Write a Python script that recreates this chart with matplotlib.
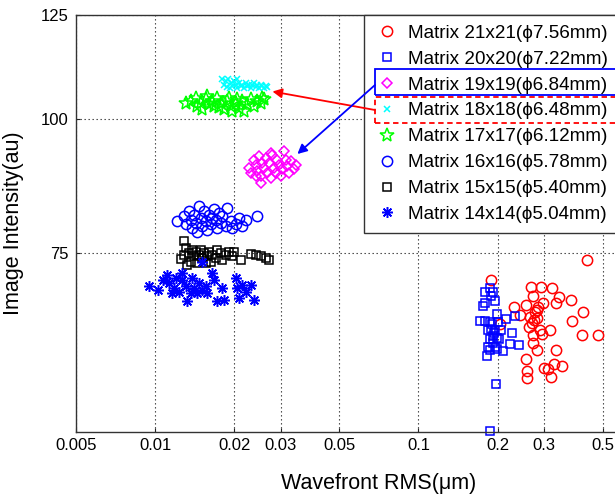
import matplotlib
matplotlib.use("Agg")
import matplotlib.pyplot as plt
from matplotlib.patches import Rectangle
from matplotlib.ticker import NullLocator

plt.rcParams['font.family'] = ['Liberation Sans', 'DejaVu Sans']

# ---------------- data ----------------
labels = ['Matrix 21x21(\u03d57.56mm)', 'Matrix 20x20(\u03d57.22mm)', 'Matrix 19x19(\u03d56.84mm)',
          'Matrix 18x18(\u03d56.48mm)', 'Matrix 17x17(\u03d56.12mm)', 'Matrix 16x16(\u03d55.78mm)',
          'Matrix 15x15(\u03d55.40mm)', 'Matrix 14x14(\u03d55.04mm)']

m21_x = [0.435, 0.188, 0.267, 0.292, 0.321, 0.272, 0.340, 0.378, 0.298, 0.332, 0.256, 0.231, 0.281, 0.420,
         0.277, 0.243, 0.264, 0.281, 0.381, 0.269, 0.204, 0.289, 0.316, 0.295, 0.271, 0.416, 0.480, 0.273,
         0.281, 0.332, 0.255, 0.327, 0.349, 0.300, 0.309, 0.259, 0.318, 0.258, 0.283, 0.275, 0.262]
m21_y = [73.9, 70.9, 69.8, 69.8, 69.6, 68.4, 68.3, 67.8, 67.4, 67.4, 67.2, 66.9, 66.5, 66.1,
         66.1, 65.7, 65.5, 65.3, 64.9, 64.6, 64.5, 63.7, 63.6, 63.1, 63.0, 63.0, 63.0, 61.9,
         61.0, 61.0, 59.8, 59.2, 58.9, 58.7, 58.6, 58.3, 57.6, 57.4, 66.8, 65.0, 64.0]

m20_x = [0.187, 0.1786, 0.1926, 0.188, 0.1954, 0.1786, 0.1764, 0.1994, 0.2333, 0.2144,
         0.1714, 0.179, 0.187, 0.2011, 0.188, 0.1954, 0.1843, 0.2053, 0.2266, 0.1926,
         0.1983, 0.1915, 0.2227, 0.2402, 0.1843, 0.1994, 0.209, 0.1818, 0.187, 0.197,
         0.186, 0.190, 0.1935, 0.2025, 0.187, 0.1954]
m20_y = [69.6, 69.1, 69.0, 68.4, 67.7, 67.4, 67.0, 65.9, 65.6, 65.1,
         64.9, 64.9, 64.8, 64.7, 63.8, 63.7, 63.7, 63.7, 63.2, 62.8,
         62.6, 61.9, 61.8, 61.6, 61.3, 61.1, 60.8, 60.2, 61.0, 56.7,
         51.3, 64.4, 63.2, 62.4, 62.4, 61.4]

m19_x = [0.02272, 0.02306, 0.02373, 0.02409, 0.02444, 0.0248, 0.02517, 0.02517, 0.02553, 0.02589,
         0.02628, 0.02666, 0.02707, 0.02745, 0.02786, 0.02826, 0.02867, 0.02909, 0.02952, 0.02994,
         0.0304, 0.03083, 0.0313, 0.03174, 0.03221, 0.03269, 0.03364, 0.03415, 0.02745, 0.02409]
m19_y = [90.1, 89.1, 91.7, 90.7, 89.5, 92.4, 88.5, 87.2, 91.1, 90.1,
         92.0, 89.1, 91.1, 88.2, 92.7, 90.1, 89.1, 91.7, 90.7, 88.5,
         89.8, 93.4, 91.7, 90.4, 89.1, 91.4, 89.8, 90.7, 93.0, 88.5]

m18_x = [0.01801, 0.01855, 0.01828, 0.01893, 0.01938, 0.01966, 0.01995, 0.02024, 0.02054, 0.02084,
         0.02113, 0.02144, 0.02176, 0.02208, 0.0224, 0.02273, 0.02306, 0.0234, 0.02375, 0.0241,
         0.02445, 0.02481, 0.02517, 0.02553, 0.02591, 0.02629, 0.02668, 0.01871, 0.01926, 0.02054]
m18_y = [109.1, 108.5, 107.7, 108.9, 108.1, 107.4, 108.5, 107.7, 107.0, 108.1,
         107.4, 107.7, 107.0, 108.0, 107.4, 107.7, 107.0, 107.5, 108.0, 107.2,
         107.6, 107.0, 107.7, 107.4, 107.0, 107.4, 107.2, 107.2, 106.8, 108.9]

m17_x = [0.01309, 0.01367, 0.01428, 0.01491, 0.01513, 0.01558, 0.01604, 0.01651, 0.01725, 0.0175,
         0.01776, 0.01828, 0.01882, 0.01909, 0.01938, 0.01966, 0.02024, 0.02054, 0.02084, 0.02144,
         0.02176, 0.0224, 0.02306, 0.02375, 0.02445, 0.02517, 0.02553, 0.02591, 0.01675, 0.01581, 0.01449]
m17_y = [103.6, 104.0, 104.7, 103.6, 102.2, 104.3, 103.2, 104.0, 104.7, 102.7,
         103.6, 102.1, 104.0, 104.7, 102.8, 101.7, 103.6, 104.4, 102.5, 104.0,
         101.7, 103.2, 104.3, 102.8, 104.0, 103.6, 104.7, 104.3, 102.8, 105.1, 102.8]

m16_x = [0.01217, 0.0129, 0.01309, 0.01347, 0.01367, 0.01387, 0.01408, 0.01428, 0.0147, 0.01491,
         0.01513, 0.01535, 0.01557, 0.01581, 0.01603, 0.01627, 0.01675, 0.017, 0.01724, 0.0175,
         0.01776, 0.01801, 0.01855, 0.01882, 0.01937, 0.01965, 0.02023, 0.02083, 0.02144, 0.02208,
         0.02445, 0.01449, 0.01651]
m16_y = [80.4, 81.2, 79.8, 82.1, 80.6, 79.2, 81.5, 80.1, 83.0, 80.9,
         79.5, 82.1, 80.4, 78.9, 81.5, 79.8, 82.4, 80.6, 79.2, 81.8,
         80.1, 81.2, 79.5, 82.7, 80.4, 79.2, 79.8, 80.9, 79.5, 80.6,
         81.2, 78.6, 80.9]

m15_x = [0.0129, 0.01309, 0.0129, 0.01347, 0.01367, 0.01387, 0.01408, 0.01428, 0.01449, 0.0147,
         0.01491, 0.01513, 0.01535, 0.01581, 0.01603, 0.01627, 0.01651, 0.017, 0.01724, 0.01776,
         0.01801, 0.01855, 0.0191, 0.01965, 0.01995, 0.02113, 0.02307, 0.02409, 0.02516, 0.02628,
         0.02707, 0.01328, 0.01253, 0.01557]
m15_y = [76.95, 75.9, 74.7, 75.0, 73.7, 75.6, 74.5, 75.3, 73.5, 74.8,
         75.6, 74.2, 75.0, 74.5, 75.3, 73.7, 74.8, 74.2, 75.6, 75.0,
         74.0, 74.8, 75.3, 74.5, 75.3, 74.0, 74.9, 74.8, 74.5, 74.2,
         74.0, 73.2, 74.1, 73.5]

m14_x = [0.0095, 0.01022, 0.01068, 0.01115, 0.01132, 0.01182, 0.01199, 0.01234, 0.01271, 0.01309,
         0.01327, 0.01367, 0.01386, 0.01407, 0.01448, 0.0147, 0.01513, 0.01557, 0.0158, 0.0165,
         0.01675, 0.01724, 0.01802, 0.01828, 0.02023, 0.02053, 0.02083, 0.02144, 0.02208, 0.02307,
         0.02374, 0.01165, 0.01271, 0.01513]
m14_y = [69.9, 69.4, 70.9, 71.6, 70.4, 69.6, 71.1, 69.1, 70.9, 69.9,
         67.7, 68.9, 71.1, 69.6, 68.9, 70.4, 69.4, 69.9, 68.9, 71.9,
         70.9, 67.7, 69.6, 67.9, 71.1, 69.6, 68.1, 70.1, 69.1, 70.1,
         67.9, 68.9, 71.9, 73.7]

xticks = [0.005, 0.01, 0.02, 0.03, 0.05, 0.1, 0.2, 0.3, 0.5]
xticklabels = ['0.005', '0.01', '0.02', '0.03', '0.05', '0.1', '0.2', '0.3', '0.5']
yticks = [75, 100, 125]
yticklabels = ['75', '100', '125']

# ---------------- figure ----------------
fig = plt.figure(figsize=(6.15, 4.94), dpi=100)
ax = fig.add_axes([0.1231, 0.1265, 0.9858, 0.8431])
ax.set_xscale('log')
ax.set_yscale('log')
ax.set_xlim(0.005, 1)
ax.set_ylim(51.2, 125)

series = [
    (m21_x, m21_y, dict(marker='o', color='#ff0000', ms=7.4, mfc='none', mew=1.1)),
    (m20_x, m20_y, dict(marker='s', color='#0000ff', ms=6.0, mfc='none', mew=1.1)),
    (m19_x, m19_y, dict(marker='D', color='#ff00ff', ms=5.4, mfc='none', mew=1.1)),
    (m18_x, m18_y, dict(marker='x', color='#00ffff', ms=4.8, mew=1.1)),
    (m17_x, m17_y, dict(marker='*', color='#00ff00', ms=10.5, mfc='none', mew=1.1)),
    (m16_x, m16_y, dict(marker='o', color='#0000ff', ms=7.4, mfc='none', mew=1.1)),
    (m15_x, m15_y, dict(marker='s', color='#000000', ms=6.0, mfc='none', mew=1.1)),
    (m14_x, m14_y, dict(marker=(8, 2, 0), color='#0000ff', ms=7.8, mew=1.1)),
]
handles = []
for (xs, ys, st), lab in zip(series, labels):
    h, = ax.plot(xs, ys, linestyle='none', label=lab, clip_on=False, **st)
    handles.append(h)

ax.set_xticks(xticks)
ax.set_xticklabels(xticklabels)
ax.set_yticks(yticks)
ax.set_yticklabels(yticklabels)
ax.xaxis.set_minor_locator(NullLocator())
ax.yaxis.set_minor_locator(NullLocator())
ax.tick_params(direction='in', length=3, width=0.8, labelsize=12, colors='#222222',
               labelcolor='black', pad=5)
ax.grid(True, which='major', linestyle=(0, (1.2, 2.4)), color='#333333', linewidth=0.8)
for s in ax.spines.values():
    s.set_color('#333333')
    s.set_linewidth(1.0)

ax.set_xlabel('Wavefront RMS(\u03bcm)', fontsize=15.5, labelpad=14)
ax.set_ylabel('Image Intensity(au)', fontsize=15.5, labelpad=12)

leg = ax.legend(handles=handles, loc='upper left', bbox_to_anchor=(0.4755, 1.0),
                borderaxespad=0, fontsize=13.6, frameon=True, fancybox=False,
                edgecolor='#333333', framealpha=1, numpoints=1,
                borderpad=0.5, labelspacing=0.46, handlelength=1.45, handletextpad=0.38)
leg.get_frame().set_linewidth(1.0)

# highlight boxes around two legend entries
ax.add_patch(Rectangle((375 / 615, 1 - 95 / 494), 0.5, 26 / 494, transform=fig.transFigure,
                       fill=False, edgecolor='#0000ff', linewidth=1.3, clip_on=False, zorder=10))
ax.add_patch(Rectangle((375 / 615, 1 - 123 / 494), 0.5, 26 / 494, transform=fig.transFigure,
                       fill=False, edgecolor='#ff0000', linewidth=1.3, linestyle=(0, (3, 2)),
                       clip_on=False, zorder=10))

# arrows from legend entries to clusters
ax.annotate('', xy=(0.0279, 106.1), xycoords='data',
            xytext=(375 / 615, 1 - 110 / 494), textcoords='figure fraction',
            arrowprops=dict(arrowstyle='-|>', color='#ff0000', lw=1.3, mutation_scale=14,
                            shrinkA=0, shrinkB=0), zorder=11)
ax.annotate('', xy=(0.0347, 92.8), xycoords='data',
            xytext=(375 / 615, 1 - 85 / 494), textcoords='figure fraction',
            arrowprops=dict(arrowstyle='-|>', color='#0000ff', lw=1.3, mutation_scale=14,
                            shrinkA=0, shrinkB=0), zorder=11)

fig.savefig('out.png', dpi=100)
